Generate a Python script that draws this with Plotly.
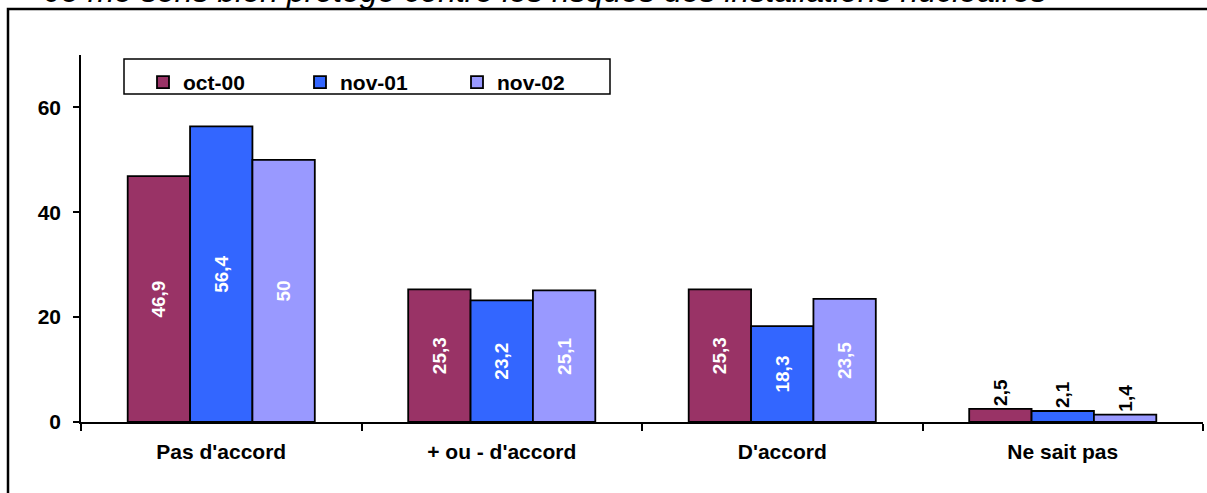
import plotly.graph_objects as go

categories = ["Pas d'accord", "+ ou - d'accord", "D'accord", "Ne sait pas"]
series_names = ["oct-00", "nov-01", "nov-02"]
oct00 = [46.9, 25.3, 25.3, 2.5]
nov01 = [56.4, 23.2, 18.3, 2.1]
nov02 = [50, 25.1, 23.5, 1.4]
colors = ["#993366", "#3366FF", "#9999FF"]
title_text = "Je me sens bien protégé contre les risques des installations nucléaires"

FONT = "Arial, Liberation Sans, sans-serif"
W, H = 1207, 493
L, R, T, B = 81, 4, 55, 71
PW, PH = W - L - R, H - T - B


def px_x(x):
    return (x - L) / PW


def px_y(y):
    return (H - B - y) / PH


def fmt(v):
    return ("%g" % v).replace(".", ",")


fig = go.Figure()
for name, vals, col in zip(series_names, [oct00, nov01, nov02], colors):
    fig.add_trace(go.Bar(
        x=categories, y=vals, name=name,
        marker=dict(color=col, line=dict(color="black", width=1.8)),
        text=[fmt(v) for v in vals],
        textposition=["inside" if v > 10 else "outside" for v in vals],
        insidetextanchor="middle",
        textangle=-90,
        insidetextfont=dict(color="white", size=19, family=FONT, weight="bold"),
        outsidetextfont=dict(color="black", size=19, family=FONT, weight="bold"),
        cliponaxis=False,
    ))

fig.update_layout(
    width=W, height=H,
    margin=dict(l=L, r=R, t=T, b=B, autoexpand=False),
    paper_bgcolor="white", plot_bgcolor="white",
    barmode="group", bargap=0.333, bargroupgap=0,
    font=dict(family=FONT, size=21, color="black"),
    showlegend=True,
    legend=dict(
        orientation="h", x=px_x(143), y=px_y(62), xanchor="left", yanchor="top",
        borderwidth=0, bgcolor="rgba(0,0,0,0)",
        font=dict(size=21, family=FONT, weight="bold"),
        entrywidth=112, entrywidthmode="pixels",
        traceorder="normal",
    ),
    xaxis=dict(
        showline=True, linecolor="black", linewidth=1.5,
        ticks="outside", tickson="boundaries", ticklen=7, tickwidth=1.5, tickcolor="black",
        tickfont=dict(size=21, family=FONT, weight="bold"),
        ticklabelstandoff=10,
        showgrid=False,
    ),
    yaxis=dict(
        range=[0, 70], tickvals=[0, 20, 40, 60],
        showline=True, linecolor="black", linewidth=1.5,
        ticks="outside", ticklen=6, tickwidth=1.5, tickcolor="black",
        tickfont=dict(size=21, family=FONT, weight="bold"),
        ticklabelstandoff=8,
        showgrid=False, zeroline=False,
    ),
    shapes=[
        dict(
            type="rect", xref="paper", yref="paper",
            x0=px_x(8), x1=1.2, y0=-0.4, y1=px_y(9),
            line=dict(color="black", width=2.5), fillcolor="rgba(0,0,0,0)", layer="below",
        ),
        dict(
            type="rect", xref="paper", yref="paper",
            x0=px_x(124), x1=px_x(610), y0=px_y(94), y1=px_y(59),
            line=dict(color="black", width=1.5), fillcolor="white", layer="above",
        ),
    ],
    annotations=[dict(
        text=title_text, xref="paper", yref="paper",
        x=px_x(42), y=px_y(11.5), xanchor="left", yanchor="bottom",
        showarrow=False, font=dict(size=32, family=FONT, style="italic", color="black"),
    )],
)

fig.write_html("out.html", config={"displayModeBar": False},
               post_script="document.body.style.margin='0px';")
